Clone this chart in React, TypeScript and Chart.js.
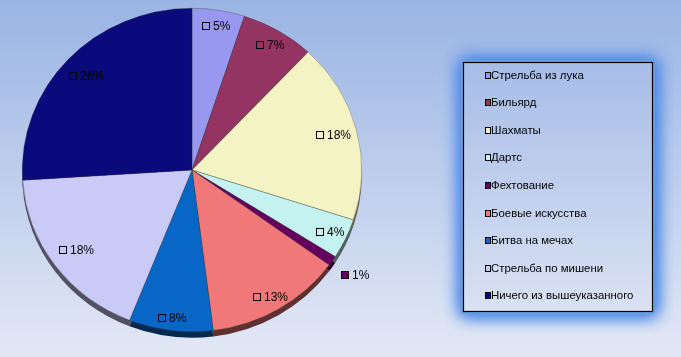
import React, { useEffect, useRef } from "react";
import { Chart, registerables } from "chart.js";

Chart.register(...registerables);

const categories = [
  "Стрельба из лука",
  "Бильярд",
  "Шахматы",
  "Дартс",
  "Фехтование",
  "Боевые искусства",
  "Битва на мечах",
  "Стрельба по мишени",
  "Ничего из вышеуказанного",
];
const percentages = [5, 7, 18, 4, 1, 13, 8, 18, 26];
const sliceColors = [
  "#9898F0",
  "#933462",
  "#F3F3C3",
  "#C3F2F0",
  "#650060",
  "#F07878",
  "#0866C6",
  "#CACAF6",
  "#0A0A7C",
];
// radial position of each data label, as a fraction of the pie radius
const labelRadius = [0.9, 0.9, 0.86, 0.9, 1.16, 0.91, 0.92, 0.84, 0.85];

const TILT = 0.953;
const RIM = 6;
const FONT = "'Liberation Sans', Arial, sans-serif";

function darken(hex: string, f: number) {
  const n = parseInt(hex.slice(1), 16);
  const r = Math.round(((n >> 16) & 255) * f);
  const g = Math.round(((n >> 8) & 255) * f);
  const b = Math.round((n & 255) * f);
  return `rgb(${r},${g},${b})`;
}

function bgGradient(ctx: CanvasRenderingContext2D, h: number) {
  const g = ctx.createLinearGradient(0, 0, 0, h);
  g.addColorStop(0, "#9AB4E4");
  g.addColorStop(1, "#E3E8F5");
  return g;
}

const bgPlugin = {
  id: "bgPlugin",
  beforeDraw(chart: any) {
    const { ctx, width, height } = chart;
    ctx.save();
    ctx.fillStyle = bgGradient(ctx, height);
    ctx.fillRect(0, 0, width, height);
    ctx.restore();
  },
};

const tiltPlugin = {
  id: "tiltPlugin",
  beforeDatasetsDraw(chart: any) {
    const { ctx } = chart;
    const meta = chart.getDatasetMeta(0);
    const first = meta.data[0];
    const cy = first.y;
    ctx.save();
    ctx.translate(0, cy);
    ctx.scale(1, TILT);
    ctx.translate(0, -cy);
    const d = RIM / TILT;
    meta.data.forEach((arc: any, i: number) => {
      const { x, y, startAngle, endAngle, outerRadius } = arc.getProps(
        ["x", "y", "startAngle", "endAngle", "outerRadius"],
        true
      );
      ctx.beginPath();
      ctx.moveTo(x, y + d);
      ctx.arc(x, y + d, outerRadius, startAngle, endAngle);
      ctx.closePath();
      ctx.fillStyle = darken(sliceColors[i], 0.4);
      ctx.fill();
    });
  },
  afterDatasetsDraw(chart: any) {
    chart.ctx.restore();
  },
};

const labelPlugin = {
  id: "labelPlugin",
  afterDatasetsDraw(chart: any) {
    const { ctx } = chart;
    const meta = chart.getDatasetMeta(0);
    const vals = chart.data.datasets[0].data as number[];
    ctx.save();
    ctx.font = `12px ${FONT}`;
    ctx.textBaseline = "middle";
    meta.data.forEach((arc: any, i: number) => {
      const { x, y, startAngle, endAngle, outerRadius } = arc.getProps(
        ["x", "y", "startAngle", "endAngle", "outerRadius"],
        true
      );
      const mid = (startAngle + endAngle) / 2;
      const f = labelRadius[i];
      const lx = x + Math.cos(mid) * outerRadius * f;
      const ly = y + Math.sin(mid) * outerRadius * f * TILT;
      const text = `${vals[i]}%`;
      const tw = ctx.measureText(text).width;
      const box = 7;
      const gap = 4;
      const total = box + gap + tw;
      const sx = Math.round(lx - total / 2);
      const sy = Math.round(ly);
      ctx.fillStyle = sliceColors[i];
      ctx.fillRect(sx + 0.5, sy - 3.5, box, box);
      ctx.strokeStyle = "#000";
      ctx.lineWidth = 1;
      ctx.strokeRect(sx + 0.5, sy - 3.5, box, box);
      ctx.fillStyle = "#000";
      ctx.textAlign = "left";
      ctx.fillText(text, sx + box + gap, sy + 0.5);
    });
    ctx.restore();
  },
};

const legendPlugin = {
  id: "legendPlugin",
  afterDraw(chart: any) {
    const { ctx, height } = chart;
    const bx = 463.5;
    const by = 62.5;
    const bw = 189;
    const bh = 249;
    ctx.save();
    ctx.shadowColor = "rgba(80,140,232,1)";
    ctx.shadowBlur = 16;
    ctx.fillStyle = "#6E9FE6";
    for (let k = 0; k < 3; k++) ctx.fillRect(bx - 2, by - 2, bw + 4, bh + 4);
    ctx.shadowBlur = 0;
    ctx.shadowColor = "transparent";
    ctx.fillStyle = bgGradient(ctx, height);
    ctx.fillRect(bx, by, bw, bh);
    ctx.strokeStyle = "#000";
    ctx.lineWidth = 1.2;
    ctx.strokeRect(bx, by, bw, bh);
    ctx.font = `11.4px ${FONT}`;
    ctx.textBaseline = "middle";
    ctx.textAlign = "left";
    const labels = chart.data.labels as string[];
    const step = 27.6;
    labels.forEach((lab: string, i: number) => {
      const cy = Math.round(75.5 + i * step);
      ctx.fillStyle = sliceColors[i];
      ctx.fillRect(485.5, cy - 3.5, 5, 6);
      ctx.strokeStyle = "#000";
      ctx.lineWidth = 1;
      ctx.strokeRect(485.5, cy - 3.5, 5, 6);
      ctx.fillStyle = "#000";
      ctx.fillText(lab, 491, cy);
    });
    ctx.restore();
  },
};

export default function App() {
  const ref = useRef<HTMLCanvasElement | null>(null);
  useEffect(() => {
    if (!ref.current) return;
    const chart = new Chart(ref.current, {
      type: "pie",
      data: {
        labels: categories,
        datasets: [
          {
            data: percentages,
            backgroundColor: sliceColors,
            borderColor: "rgba(50,50,50,0.55)",
            borderWidth: 0.6,
            clip: false as any,
          },
        ],
      },
      options: {
        responsive: false,
        animation: false,
        events: [],
        layout: { padding: { left: 22, right: 319, top: 0, bottom: 17 } },
        plugins: {
          legend: { display: false },
          tooltip: { enabled: false },
        },
      },
      plugins: [bgPlugin, tiltPlugin, labelPlugin, legendPlugin],
    });
    return () => chart.destroy();
  }, []);
  return (
    <div style={{ position: "fixed", left: 0, top: 0, width: 681, height: 357 }}>
      <canvas ref={ref} width={681} height={357} style={{ display: "block" }} />
    </div>
  );
}
